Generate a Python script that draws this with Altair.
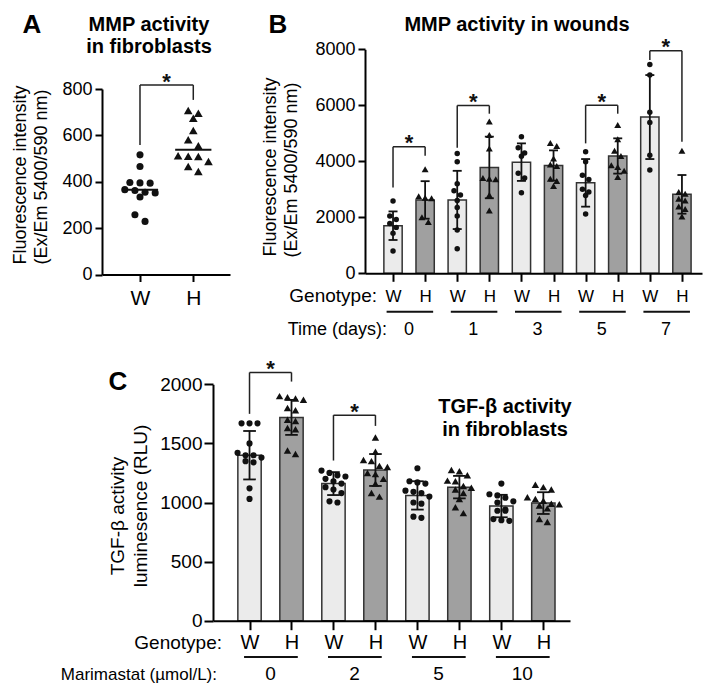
import altair as alt
import pandas as pd

FONT = "Liberation Sans, Arial, Helvetica, sans-serif"
OFF = 8
CW, CH = 695, 678
W_FILL, H_FILL, EDGE, INK = "#ebebeb", "#a0a0a0", "#333333", "#111111"

# ---------------- data ----------------
genotypes = ["W", "H"]

# Panel A : MMP activity in fibroblasts
a_W = [516, 466, 397, 395, 394, 366, 362, 355, 352, 334, 258, 229]
a_H = [707, 695, 674, 621, 581, 555, 512, 510, 509, 487, 466, 444]
a_mean = [365, 538]
a_yticks = [0, 200, 400, 600, 800]
a_brackets = [[0, 1, 817, 559, 753]]  # left, right, top, left foot, right foot

# Panel B : MMP activity in wounds
b_days = ["0", "1", "3", "5", "7"]
b_mean = [1700, 2620, 2620, 3780, 3970, 3850, 3230, 4190, 5580, 2820]
b_sd = [510, 670, 1040, 1100, 670, 540, 850, 630, 1500, 690]
b_points = [
    [2580, 2050, 1920, 1780, 1640, 1430, 800],
    [3720, 2750, 2700, 2680, 2000, 1830],
    [4280, 3980, 3200, 2950, 2800, 2600, 2350, 2050, 1550, 880],
    [5420, 4940, 4460, 3400, 3380, 3360, 2800, 2240],
    [4880, 4480, 4300, 4180, 3570, 3400, 2880],
    [4650, 4550, 4100, 3890, 3830, 3380, 3300, 3120],
    [4340, 3980, 3500, 3350, 3000, 2900, 2780, 2120],
    [5300, 4790, 4380, 4190, 3860, 3800, 3660, 3440],
    [7460, 7080, 5750, 5390, 4220, 3690],
    [4380, 2900, 2840, 2660, 2600, 2390, 2300, 2030],
]
b_yticks = [0, 2000, 4000, 6000, 8000]
b_brackets = [[0, 1, 4524, 3060, 4200], [2, 3, 5990, 4480, 5700],
              [6, 7, 6000, 4640, 5700], [8, 9, 7944, 7620, 4700]]

# Panel C : TGF-beta activity in fibroblasts
c_doses = ["0", "2", "5", "10"]
c_mean = [1400, 1720, 1160, 1275, 1060, 1130, 970, 995]
c_sd = [205, 148, 97, 135, 120, 95, 95, 92]
c_points = [
    [1670, 1670, 1670, 1500, 1420, 1400, 1400, 1380, 1350, 1340, 1120, 1030],
    [1900, 1890, 1880, 1870, 1800, 1780, 1700, 1690, 1630, 1620, 1440, 1410],
    [1270, 1250, 1230, 1220, 1200, 1180, 1160, 1130, 1110, 1080, 1010, 1000],
    [1550, 1430, 1360, 1350, 1310, 1300, 1250, 1240, 1200, 1160, 1080, 1050],
    [1290, 1180, 1170, 1160, 1100, 1090, 1080, 1050, 1000, 990, 880, 870],
    [1275, 1265, 1230, 1185, 1180, 1140, 1125, 1110, 1080, 1030, 960, 910],
    [1160, 1070, 1060, 1040, 1010, 1000, 940, 930, 930, 860, 850, 845],
    [1150, 1130, 1110, 1045, 1030, 1015, 990, 985, 975, 950, 860, 835],
]
c_yticks = [0, 500, 1000, 1500, 2000]
c_brackets = [[0, 1, 2100, 1750, 2023], [2, 3, 1739, 1355, 1648]]


# ---------------- helpers ----------------
def swarm(vals, delta, step):
    order = sorted(range(len(vals)), key=lambda i: -vals[i])
    offs = [0.0] * len(vals)
    group = []

    def flush(g):
        n = len(g)
        for k, i in enumerate(g):
            offs[i] = (k - (n - 1) / 2) * step

    for i in order:
        if group and vals[group[0]] - vals[i] > delta:
            flush(group)
            group = []
        group.append(i)
    flush(group)
    return offs


def points_df(groups, delta, step):
    rows = []
    for pos, vals in enumerate(groups):
        offs = swarm(vals, delta, step)
        for v, o in zip(vals, offs):
            rows.append({"px": pos + o, "val": v, "geno": genotypes[pos % 2]})
    return pd.DataFrame(rows)


def yaxis(offset, values, size, tick, pad):
    return alt.Axis(orient="left", offset=offset, values=values, title=None, grid=False,
                    labelFontSize=size, labelPadding=pad, tickSize=tick, format="d",
                    domainWidth=2, tickWidth=2, labelFont=FONT, labelColor="black",
                    domainColor="black", tickColor="black", labelOverlap=False, zindex=1)


def xaxis(offset, n, size, tick, pad):
    return alt.Axis(orient="bottom", offset=offset, values=list(range(n)), title=None, grid=False,
                    labelExpr="datum.value % 2 === 0 ? 'W' : 'H'", labelFontSize=size,
                    labelPadding=pad, tickSize=tick, domainWidth=2, tickWidth=2, labelFont=FONT,
                    labelColor="black", domainColor="black", tickColor="black",
                    labelFlush=False, labelOverlap=False, zindex=1)


fill_enc = alt.Color("geno:N", scale=alt.Scale(domain=genotypes, range=[W_FILL, H_FILL]), legend=None)


def point_layers(pdf, X, Y, csize, tsize):
    w = alt.Chart(pdf[pdf["geno"] == "W"]).mark_point(
        shape="circle", filled=True, opacity=1, color=INK, size=csize).encode(x=X("px"), y=Y("val"))
    h = alt.Chart(pdf[pdf["geno"] == "H"]).mark_point(
        shape="triangle-up", filled=True, opacity=1, color=INK, size=tsize).encode(x=X("px"), y=Y("val"))
    return [w, h]


def bracket_layers(rows, X, Y):
    df = pd.DataFrame(rows, columns=["l", "r", "top", "lf", "rf"])
    df["mid"] = (df["l"] + df["r"]) / 2
    base = alt.Chart(df)
    st = dict(color="#222222", strokeWidth=1.5)
    return [
        base.mark_rule(**st).encode(x=X("l"), y=Y("lf"), y2=alt.Y2("top")),
        base.mark_rule(**st).encode(x=X("l"), x2=alt.X2("r"), y=Y("top")),
        base.mark_rule(**st).encode(x=X("r"), y=Y("rf"), y2=alt.Y2("top")),
        base.mark_text(text="*", fontSize=22, fontWeight="bold", baseline="alphabetic", dy=3.5,
                       font=FONT, color=INK).encode(x=X("mid"), y=Y("top")),
    ]


def bar_panel(means, sds, pts, xs, ys, xa, ya, half, cap, csize, tsize, delta, step):
    X = lambda f: alt.X(f + ":Q", scale=xs, axis=xa)
    Y = lambda f: alt.Y(f + ":Q", scale=ys, axis=ya)
    df = pd.DataFrame({"pos": list(range(len(means))), "mean": means, "sd": sds})
    df["geno"] = [genotypes[i % 2] for i in df["pos"]]
    df["lo"] = df["pos"] - half
    df["hi"] = df["pos"] + half
    df["zero"] = 0
    df["elo"] = df["mean"] - df["sd"]
    df["ehi"] = df["mean"] + df["sd"]
    df["clo"] = df["pos"] - cap
    df["chi"] = df["pos"] + cap
    base = alt.Chart(df)
    bars = base.mark_bar(stroke=EDGE, strokeWidth=1.5).encode(
        x=X("lo"), x2=alt.X2("hi"), y=Y("zero"), y2=alt.Y2("mean"), color=fill_enc)
    st = dict(color=INK, strokeWidth=1.8)
    err = base.mark_rule(**st).encode(x=X("pos"), y=Y("elo"), y2=alt.Y2("ehi"))
    cap_hi = base.mark_rule(**st).encode(x=X("clo"), x2=alt.X2("chi"), y=Y("ehi"))
    cap_lo = base.mark_rule(**st).encode(x=X("clo"), x2=alt.X2("chi"), y=Y("elo"))
    pdf = points_df(pts, delta, step)
    return X, Y, [bars, err, cap_hi, cap_lo] + point_layers(pdf, X, Y, csize, tsize)


def txt(s, x, y, size=18, bold=False, align="center", angle=None, baseline="alphabetic"):
    kw = dict(text=s, fontSize=size, font=FONT, align=align, baseline=baseline, color="black")
    if bold:
        kw["fontWeight"] = "bold"
    if angle is not None:
        kw["angle"] = angle
    return alt.Chart(pd.DataFrame({"k": [0]})).mark_text(**kw).encode(
        x=alt.value(x - OFF), y=alt.value(y - OFF))


# ---------------- Panel A ----------------
xsA = alt.Scale(domain=[-0.713, 1.689], range=[94, 222], zero=False, nice=False)
ysA = alt.Scale(domain=[0, 800], range=[266.5, 81], zero=False, nice=False)
xaA = xaxis(266.5 - CH, 2, 21, 7, 6)
yaA = yaxis(-94, a_yticks, 18, 7, 3)
XA = lambda f: alt.X(f + ":Q", scale=xsA, axis=xaA)
YA = lambda f: alt.Y(f + ":Q", scale=ysA, axis=yaA)

a_pts = points_df([a_W, a_H], 30, 0.19)
a_mdf = pd.DataFrame({"pos": [0, 1], "mean": a_mean})
a_mdf["l"] = a_mdf["pos"] - 0.34
a_mdf["r"] = a_mdf["pos"] + 0.34
panelA = alt.layer(
    *point_layers(a_pts, XA, YA, 50, 75),
    alt.Chart(a_mdf).mark_rule(color=INK, strokeWidth=2).encode(x=XA("l"), x2=alt.X2("r"), y=YA("mean")),
    *bracket_layers(a_brackets, XA, YA),
)

# ---------------- Panel B ----------------
xsB = alt.Scale(domain=[-0.873, 9.625], range=[357, 694], zero=False, nice=False)
ysB = alt.Scale(domain=[0, 8000], range=[265.3, 41.3], zero=False, nice=False)
xaB = xaxis(265.3 - CH, 10, 17, 8, 7)
yaB = yaxis(-357, b_yticks, 18, 7, 3)
XB, YB, b_layers = bar_panel(b_mean, b_sd, b_points, xsB, ysB, xaB, yaB,
                             0.285, 0.14, 30, 48, 200, 0.2)
b_lab = pd.DataFrame({"day": b_days, "mid": [2 * i + 0.5 for i in range(5)],
                      "l": [2 * i - 0.2 for i in range(5)], "r": [2 * i + 1.25 for i in range(5)]})
panelB = alt.layer(
    *b_layers,
    *bracket_layers(b_brackets, XB, YB),
    alt.Chart(b_lab).mark_rule(color=INK, strokeWidth=2).encode(
        x=XB("l"), x2=alt.X2("r"), y=alt.value(311.7 - OFF)),
    alt.Chart(b_lab).mark_text(fontSize=18, font=FONT, color="black", baseline="alphabetic").encode(
        x=XB("mid"), y=alt.value(335 - OFF), text="day:N"),
)

# ---------------- Panel C ----------------
xsC = alt.Scale(domain=[-0.87, 7.635], range=[205, 562], zero=False, nice=False)
ysC = alt.Scale(domain=[0, 2000], range=[612.7, 376.3], zero=False, nice=False)
xaC = xaxis(612.7 - CH, 8, 20, 9, 3)
yaC = yaxis(-205, c_yticks, 19, 9, 2)
XC, YC, c_layers = bar_panel(c_mean, c_sd, c_points, xsC, ysC, xaC, yaC,
                             0.278, 0.15, 38, 55, 60, 0.19)
c_lab = pd.DataFrame({"dose": c_doses, "mid": [2 * i + 0.5 for i in range(4)],
                      "l": [2 * i - 0.13 for i in range(4)], "r": [2 * i + 1.15 for i in range(4)]})
panelC = alt.layer(
    *c_layers,
    *bracket_layers(c_brackets, XC, YC),
    alt.Chart(c_lab).mark_rule(color=INK, strokeWidth=2).encode(
        x=XC("l"), x2=alt.X2("r"), y=alt.value(657 - OFF)),
    alt.Chart(c_lab).mark_text(fontSize=19, font=FONT, color="black", baseline="alphabetic").encode(
        x=XC("mid"), y=alt.value(680 - OFF), text="dose:N"),
)

# ---------------- annotations ----------------
notes = [
    txt("A", 32, 33, 26, bold=True),
    txt("MMP activity", 149, 31, 20, bold=True),
    txt("in fibroblasts", 149, 53, 20, bold=True),
    txt("Fluorescence intensity", 21, 175, 18, angle=270, baseline="middle"),
    txt("(Ex/Em 5400/590 nm)", 42, 177, 18, angle=270, baseline="middle"),
    txt("B", 278, 33, 26, bold=True),
    txt("MMP activity in wounds", 517, 31, 20, bold=True),
    txt("Fluorescence intensity", 270.5, 167, 18, angle=270, baseline="middle"),
    txt("(Ex/Em 5400/590 nm)", 291.5, 170, 18, angle=270, baseline="middle"),
    txt("Genotype:", 377, 302, 19, align="right"),
    txt("Time (days):", 387, 335, 18, align="right"),
    txt("C", 118, 390, 26, bold=True),
    txt("TGF-β activity", 505, 413, 20, bold=True),
    txt("in fibroblasts", 505, 436, 20, bold=True),
    txt("TGF-β  activity", 118, 516, 19, angle=270, baseline="middle"),
    txt("luminesence (RLU)", 141, 506, 19, angle=270, baseline="middle"),
    txt("Genotype:", 222, 649, 19, align="right"),
    txt("Marimastat (µmol/L):", 217, 680, 17, align="right"),
]

chart = alt.layer(panelA, panelB, panelC, *notes).resolve_scale(
    x="independent", y="independent"
).properties(
    width=CW, height=CH, padding=0, autosize=alt.AutoSizeParams(type="none")
).configure_view(stroke=None)

chart.save("out.html", embed_options={"renderer": "svg", "actions": False})
